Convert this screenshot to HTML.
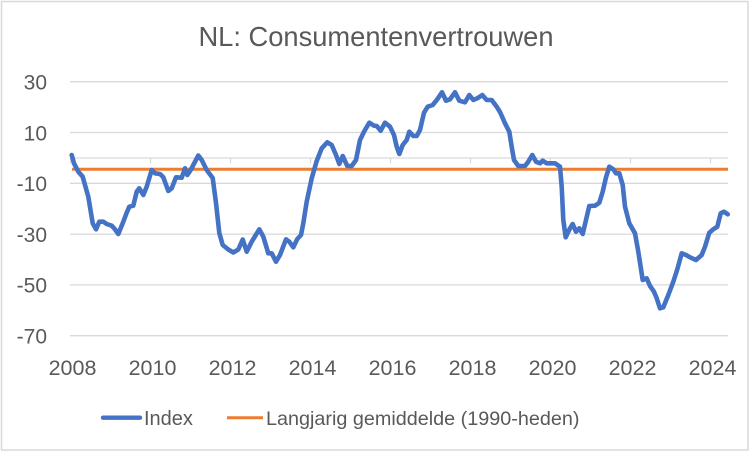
<!DOCTYPE html>
<html>
<head>
<meta charset="utf-8">
<style>
  html, body { margin: 0; padding: 0; background: #ffffff; }
  svg { display: block; }
  text { font-family: "Liberation Sans", Arial, sans-serif; fill: #595959; }
</style>
</head>
<body>
<svg width="752" height="452" viewBox="0 0 752 452" xmlns="http://www.w3.org/2000/svg">
  <rect x="0" y="0" width="752" height="452" fill="#ffffff"/>
  <rect x="1.5" y="1.5" width="746.5" height="448.5" fill="none" stroke="#d9d9d9" stroke-width="1.5"/>

  <!-- Title -->
  <text x="376" y="46" font-size="27.3" text-anchor="middle">NL: Consumentenvertrouwen</text>

  <!-- Gridlines -->
  <g stroke="#d9d9d9" stroke-width="1.3">
    <line x1="70" y1="81.7" x2="728" y2="81.7"/>
    <line x1="70" y1="132.5" x2="728" y2="132.5"/>
    <line x1="70" y1="183.3" x2="728" y2="183.3"/>
    <line x1="70" y1="234.1" x2="728" y2="234.1"/>
    <line x1="70" y1="284.9" x2="728" y2="284.9"/>
    <line x1="70" y1="335.7" x2="728" y2="335.7"/>
    <!-- axis line at 0 -->
    <line x1="70" y1="158" x2="728" y2="158"/>
    <!-- ticks -->
    <line x1="70.5" y1="158" x2="70.5" y2="163.5"/>
    <line x1="150.5" y1="158" x2="150.5" y2="163.5"/>
    <line x1="230.5" y1="158" x2="230.5" y2="163.5"/>
    <line x1="310.5" y1="158" x2="310.5" y2="163.5"/>
    <line x1="390.5" y1="158" x2="390.5" y2="163.5"/>
    <line x1="470.5" y1="158" x2="470.5" y2="163.5"/>
    <line x1="550.5" y1="158" x2="550.5" y2="163.5"/>
    <line x1="630.5" y1="158" x2="630.5" y2="163.5"/>
    <line x1="710.5" y1="158" x2="710.5" y2="163.5"/>
  </g>

  <!-- Y labels -->
  <g font-size="21" text-anchor="end">
    <text x="47" y="89.5">30</text>
    <text x="47" y="140.3">10</text>
    <text x="47" y="191.1">-10</text>
    <text x="47" y="241.9">-30</text>
    <text x="47" y="292.7">-50</text>
    <text x="47" y="343.5">-70</text>
  </g>

  <!-- X labels -->
  <g font-size="21.5" text-anchor="middle">
    <text x="72.5" y="375">2008</text>
    <text x="152.5" y="375">2010</text>
    <text x="232.5" y="375">2012</text>
    <text x="312.5" y="375">2014</text>
    <text x="392.5" y="375">2016</text>
    <text x="472.5" y="375">2018</text>
    <text x="552.5" y="375">2020</text>
    <text x="632.5" y="375">2022</text>
    <text x="712.5" y="375">2024</text>
  </g>

  <!-- Long-term average -->
  <line x1="72" y1="169.3" x2="728" y2="169.3" stroke="#ED7D31" stroke-width="3"/>

  <!-- Index -->
  <polyline fill="none" stroke="#4472C4" stroke-width="4.6" stroke-linejoin="round" stroke-linecap="round"
    points="71.7,155 74,163.3 78.3,171.7 82.7,176.7 88.3,196.7 92.7,223.3 96,229.3 99.3,221.7 103.3,221.7 106.7,224 111.7,225.7 115,229.3 118.3,234 122.7,223.3 126.7,212.7 129.3,206.7 133.3,205.7 136.7,191.7 139.3,188.3 143.3,195 146.7,186.7 151.7,170 155,173.3 160,174 163.3,177.3 168.3,191 171.7,188.3 176,177.3 181.7,177.7 185,168.3 187.3,175 190.7,170 198.3,155.5 201.7,160 206.7,170 212.7,178 216,203 219.3,233 222.7,245 228.3,249.5 233.3,252.5 238.3,249.5 242.7,239.5 246.7,251.7 251.7,241.7 259.3,229.3 263.3,236.7 268.3,253.3 271.7,253.3 276,261.7 280,255 286,239.3 289.3,241.7 293.3,247.3 297.3,239 301,235 303.3,223.3 306.7,201.7 311.7,178.3 316.7,161 321.7,148.3 327.3,142.3 331.7,145 336,155 339.3,164 342.7,156 347.3,166 351.7,166 356,160 360,140 364,131.7 369.3,122.7 374,125.7 376.7,126 380.7,130.7 385,122.7 390,126.7 394,135 396.7,146.7 399.3,154 402.7,145 406.7,140 409.3,131.7 413.3,136 416.7,136 420,130 424,112.7 427.7,106.7 432.7,105 437.3,99.3 442,92.3 446,100.7 450,99.3 455,92.3 459.3,100.7 465,102.3 469.3,95 473.3,100 477.3,98.3 482.3,95 486.7,100 491.7,100 496.7,106.7 500,112 505,123.3 509.3,131.7 511.7,146.7 514,160 518.3,166 525,166 528.3,161.7 532.3,155 536,161.7 540,163.3 542.7,160.7 546.7,163.3 555,163.3 560,166.7 561.7,186.7 563.3,220 565.7,237.3 570,228.3 572.7,224 576,231.7 579.3,228.3 582.7,234 586,220 589.3,206 595,205.7 599.3,202.7 602.7,191.7 606,177.3 609.3,166.7 613.3,169.3 616,173.3 619.3,173.3 622.7,185 625,206.7 629.3,223.3 635,233.3 638.3,251.7 642.7,280 646.7,278.3 650,286 654,291.7 656.7,298.3 660,308.3 663.3,307.3 668.3,295 673.3,281.7 677.3,269.3 681.7,253.3 686,255 690,257.3 696,260 701.7,255 705,246.7 709.3,232.7 713.3,229.3 717.3,226.7 720.7,213.3 724,211.7 727.7,214.3"/>

  <!-- Legend -->
  <line x1="103" y1="417.7" x2="140" y2="417.7" stroke="#4472C4" stroke-width="4.4" stroke-linecap="round"/>
  <text x="144" y="425" font-size="20">Index</text>
  <line x1="227" y1="417.7" x2="263" y2="417.7" stroke="#ED7D31" stroke-width="3"/>
  <text x="266" y="425" font-size="19.8">Langjarig gemiddelde (1990-heden)</text>
</svg>
</body>
</html>
